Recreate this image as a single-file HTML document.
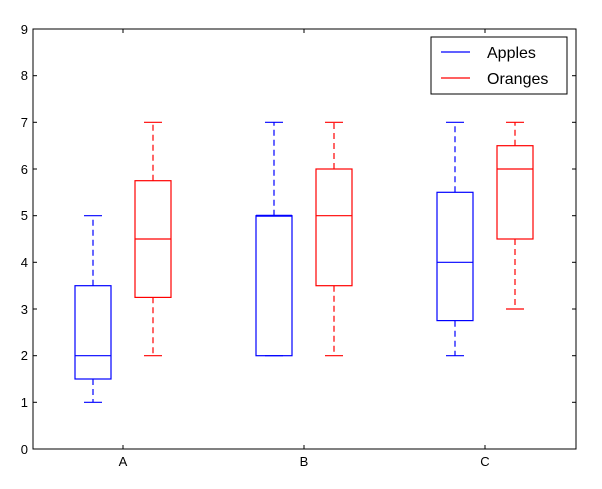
<!DOCTYPE html><html><head><style>body{margin:0;background:#fff}svg{display:block}text{font-family:"Liberation Sans",sans-serif;font-size:13px}</style></head><body>
<svg width="602" height="489" viewBox="0 0 602 489">
<rect x="33" y="29" width="543" height="420" fill="#fff" stroke="#000" stroke-width="1"/>
<g stroke="#000">
<line x1="33" y1="449" x2="37" y2="449"/><line x1="33" y1="402.3" x2="37" y2="402.3"/><line x1="33" y1="355.7" x2="37" y2="355.7"/><line x1="33" y1="309" x2="37" y2="309"/><line x1="33" y1="262.3" x2="37" y2="262.3"/><line x1="33" y1="215.7" x2="37" y2="215.7"/><line x1="33" y1="169" x2="37" y2="169"/><line x1="33" y1="122.3" x2="37" y2="122.3"/><line x1="33" y1="75.7" x2="37" y2="75.7"/>
<line x1="576" y1="402.3" x2="572" y2="402.3"/><line x1="576" y1="355.7" x2="572" y2="355.7"/><line x1="576" y1="309" x2="572" y2="309"/><line x1="576" y1="262.3" x2="572" y2="262.3"/><line x1="576" y1="215.7" x2="572" y2="215.7"/><line x1="576" y1="169" x2="572" y2="169"/><line x1="576" y1="122.3" x2="572" y2="122.3"/><line x1="576" y1="75.7" x2="572" y2="75.7"/>
<line x1="123" y1="449" x2="123" y2="445"/><line x1="304" y1="449" x2="304" y2="445"/><line x1="485" y1="449" x2="485" y2="445"/>
<line x1="123" y1="29" x2="123" y2="33"/><line x1="304" y1="29" x2="304" y2="33"/><line x1="485" y1="29" x2="485" y2="33"/>
</g>
<g text-anchor="end">
<text x="28" y="454">0</text><text x="28" y="407">1</text><text x="28" y="360">2</text><text x="28" y="314">3</text><text x="28" y="267">4</text><text x="28" y="220">5</text><text x="28" y="174">6</text><text x="28" y="127">7</text><text x="28" y="80">8</text><text x="28" y="34">9</text>
</g>
<g text-anchor="middle"><text x="123" y="466">A</text><text x="304" y="466">B</text><text x="485" y="466">C</text></g>
<g fill="none" stroke-width="1.2">
<!-- A apples -->
<g stroke="#0000ff"><rect x="75" y="285.7" width="36" height="93.3"/><line x1="75" y1="355.7" x2="111" y2="355.7"/><line x1="93" y1="285.7" x2="93" y2="215.7" stroke-dasharray="6,4"/><line x1="93" y1="379" x2="93" y2="402.3" stroke-dasharray="6,4"/><line x1="84" y1="215.7" x2="102" y2="215.7"/><line x1="84" y1="402.3" x2="102" y2="402.3"/></g>
<g stroke="#ff0000"><rect x="135" y="180.7" width="36" height="116.7"/><line x1="135" y1="239" x2="171" y2="239"/><line x1="153" y1="180.7" x2="153" y2="122.3" stroke-dasharray="6,4"/><line x1="153" y1="297.3" x2="153" y2="355.7" stroke-dasharray="6,4"/><line x1="144" y1="122.3" x2="162" y2="122.3"/><line x1="144" y1="355.7" x2="162" y2="355.7"/></g>
<g stroke="#0000ff"><rect x="256" y="215.7" width="36" height="140"/><line x1="256" y1="215.7" x2="292" y2="215.7" stroke-width="2"/><line x1="274" y1="215.7" x2="274" y2="122.3" stroke-dasharray="6,4"/><line x1="265" y1="122.3" x2="283" y2="122.3"/><line x1="265" y1="355.7" x2="283" y2="355.7"/></g>
<g stroke="#ff0000"><rect x="316" y="169" width="36" height="116.7"/><line x1="316" y1="215.7" x2="352" y2="215.7"/><line x1="334" y1="169" x2="334" y2="122.3" stroke-dasharray="6,4"/><line x1="334" y1="285.7" x2="334" y2="355.7" stroke-dasharray="6,4"/><line x1="325" y1="122.3" x2="343" y2="122.3"/><line x1="325" y1="355.7" x2="343" y2="355.7"/></g>
<g stroke="#0000ff"><rect x="437" y="192.3" width="36" height="128.3"/><line x1="437" y1="262.3" x2="473" y2="262.3"/><line x1="455" y1="192.3" x2="455" y2="122.3" stroke-dasharray="6,4"/><line x1="455" y1="320.7" x2="455" y2="355.7" stroke-dasharray="6,4"/><line x1="446" y1="122.3" x2="464" y2="122.3"/><line x1="446" y1="355.7" x2="464" y2="355.7"/></g>
<g stroke="#ff0000"><rect x="497" y="145.7" width="36" height="93.3"/><line x1="497" y1="169" x2="533" y2="169"/><line x1="515" y1="145.7" x2="515" y2="122.3" stroke-dasharray="6,4"/><line x1="515" y1="239" x2="515" y2="309" stroke-dasharray="6,4"/><line x1="506" y1="122.3" x2="524" y2="122.3"/><line x1="506" y1="309" x2="524" y2="309"/></g>
</g>
<rect x="431" y="37" width="136" height="57" fill="#fff" stroke="#000"/>
<line x1="441" y1="52" x2="470" y2="52" stroke="#0000ff" stroke-width="1.2"/>
<line x1="441" y1="78" x2="470" y2="78" stroke="#ff0000" stroke-width="1.2"/>
<text x="487" y="58" style="font-size:16px">Apples</text>
<text x="487" y="84" style="font-size:16px">Oranges</text>
</svg></body></html>
